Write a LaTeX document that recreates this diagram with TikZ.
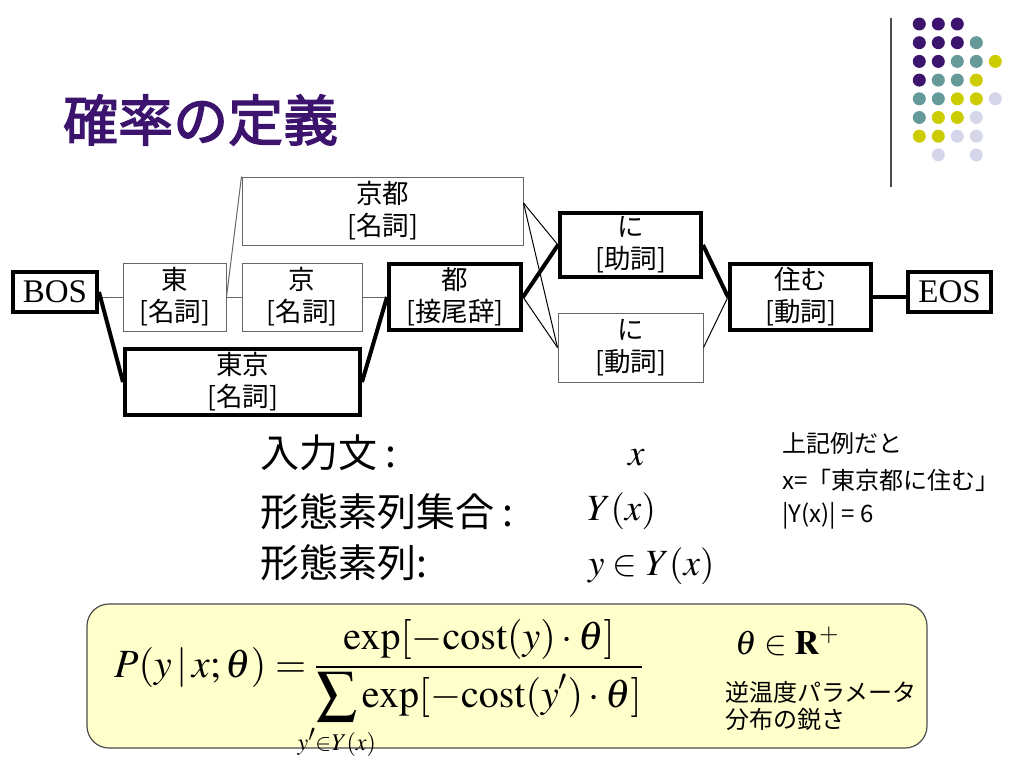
\documentclass[tikz,border=0pt]{standalone}
\usepackage{mathptmx}
\usepackage{fontspec}
\setmainfont{Liberation Serif}
\newfontfamily\jpfont{Noto Sans CJK JP}
\newfontfamily\jptitlefont[FakeBold=2.5]{Noto Sans CJK JP}
\definecolor{slidepurple}{RGB}{60,20,110}
\definecolor{slideteal}{RGB}{102,153,153}
\definecolor{slideolive}{RGB}{204,204,0}
\definecolor{slidelilac}{RGB}{214,214,234}
\definecolor{formulafill}{RGB}{255,255,204}

\begin{document}
\begin{tikzpicture}[
    x=1pt, y=-1pt,
    morph/.style={
        rectangle,
        draw=black!60,
        line width=1pt,
        inner sep=0pt,
        minimum height=68pt,
        align=center,
        font=\jpfont\fontsize{26.5}{32}\selectfont
    },
    best/.style={morph, draw=black, line width=4pt, minimum height=66pt},
    terminal/.style={
        rectangle,
        draw=black,
        line width=4pt,
        inner sep=0pt,
        minimum width=84pt,
        minimum height=40pt,
        font=\fontsize{33}{33}\selectfont
    },
    link/.style={draw=black!60, line width=1pt},
    bestlink/.style={draw=black, line width=4pt},
    termtext/.style={anchor=west, inner sep=0pt, font=\jpfont\fontsize{39}{39}\selectfont},
    remark/.style={anchor=west, inner sep=0pt, font=\jpfont\fontsize{24}{24}\selectfont},
    bigmath/.style={anchor=base west, inner sep=0pt, font=\fontsize{37}{37}\selectfont}
]
    \useasboundingbox (0,0) rectangle (1024,768);

    % Title and corner dots
    \node[anchor=west, inner sep=0pt, text=slidepurple, font=\jptitlefont\fontsize{55}{55}\selectfont] (title) at (63,120) {確率の定義};
    \draw[black!70, line width=1.5pt] (891,18) -- (891,187);
    \foreach \c/\r/\col in {0/0/slidepurple, 1/0/slidepurple, 2/0/slidepurple,
        0/1/slidepurple, 1/1/slidepurple, 2/1/slidepurple, 3/1/slideteal,
        0/2/slidepurple, 1/2/slidepurple, 2/2/slideteal, 3/2/slideteal, 4/2/slideolive,
        0/3/slidepurple, 1/3/slideteal, 2/3/slideteal, 3/3/slideolive,
        0/4/slideteal, 1/4/slideteal, 2/4/slideolive, 3/4/slideolive, 4/4/slidelilac,
        0/5/slideteal, 1/5/slideolive, 2/5/slideolive, 3/5/slidelilac,
        0/6/slideolive, 1/6/slideolive, 2/6/slidelilac, 3/6/slidelilac,
        1/7/slidelilac, 3/7/slidelilac}
        \fill[\col] (919.3+19*\c, 24+18.7*\r) circle[radius=6.5pt];

    % Lattice: upper path
    \node[terminal] (bos) at (55,292) {BOS};
    \node[morph, minimum width=103pt] (higashi) at (174.5,297) {東\\{}[名詞]};
    \node[morph, minimum width=281pt] (kyoto) at (382.5,211) {京都\\{}[名詞]};
    \node[morph, minimum width=120pt] (kyo) at (302,297) {京\\{}[名詞]};
    \node[best, minimum width=132pt] (to) at (455,297) {都\\{}[接尾辞]};
    \node[best, minimum width=235pt] (tokyo) at (242.5,382) {東京\\{}[名詞]};

    % Lattice: right half
    \node[best, minimum width=141pt, minimum height=64pt] (nijo) at (630.5,245) {に\\{}[助詞]};
    \node[morph, minimum width=145pt, minimum height=69pt] (nido) at (630.5,347.5) {に\\{}[動詞]};
    \node[best, minimum width=141pt] (sumu) at (800.5,297) {住む\\{}[動詞]};
    \node[terminal, minimum width=83pt] (eos) at (949.5,292) {EOS};

    % Other paths
    \draw[link] (bos.east |- higashi.west) -- (higashi.west);
    \draw[link] (higashi.east) -- (kyo.west);
    \draw[link] (higashi.east) -- (kyoto.north west);
    \draw[link] (kyo.east) -- (to.west);
    \draw[link, draw=black] ([yshift=8pt]kyoto.east) -- (nijo.west);
    \draw[link, draw=black] ([yshift=8pt]kyoto.east) -- (nido.west);
    \draw[link, draw=black] (to.east) -- (nido.west);
    \draw[link, draw=black] (nido.east) -- (sumu.west);

    % Best path
    \draw[bestlink] (bos.east) -- (tokyo.west);
    \draw[bestlink] (tokyo.east) -- (to.west);
    \draw[bestlink] (to.east) -- (nijo.west);
    \draw[bestlink] (nijo.east) -- (sumu.west);
    \draw[bestlink] (sumu.east) -- (sumu.east -| eos.west);

    % Notation
    \node[termtext] (inputlbl) at (260,453) {入力文 :};
    \node[termtext] (setlbl) at (260,512) {形態素列集合 :};
    \node[termtext] (seqlbl) at (260,563) {形態素列:};
    \node[bigmath] (inputx) at (628,465) {$x$};
    \node[bigmath] (sety) at (587,520) {$Y(x)$};
    \node[bigmath] (seqy) at (588,575) {$y\in Y(x)$};

    \node[remark] (ex1) at (782,443) {上記例だと};
    \node[remark] (ex2) at (782,480) {x=「東京都に住む」};
    \node[remark] (ex3) at (782,516) {|Y(x)| = 6};

    % Probability formula
    \draw[draw=black!70, line width=1.2pt, fill=formulafill, rounded corners=22pt] (87,604) rectangle (927,748);
    \node[anchor=base west, inner sep=0pt, font=\fontsize{40}{40}\selectfont] (prob) at (114,677)
        {$\displaystyle P(y\,|\,x;\theta)=\frac{\exp[-\mathrm{cost}(y)\cdot\theta]}{\displaystyle\sum\limits_{\makebox[0pt]{$\scriptscriptstyle y'\in Y(x)$}}\exp[-\mathrm{cost}(y')\cdot\theta]}$};
    \node[anchor=base west, inner sep=0pt, font=\fontsize{34}{34}\selectfont] (theta) at (735,654) {$\theta\in\mathbf{R}^{+}$};
    \node[remark] (temp) at (725,692) {逆温度パラメータ};
    \node[remark] (sharp) at (725,719) {分布の鋭さ};
\end{tikzpicture}
\end{document}
